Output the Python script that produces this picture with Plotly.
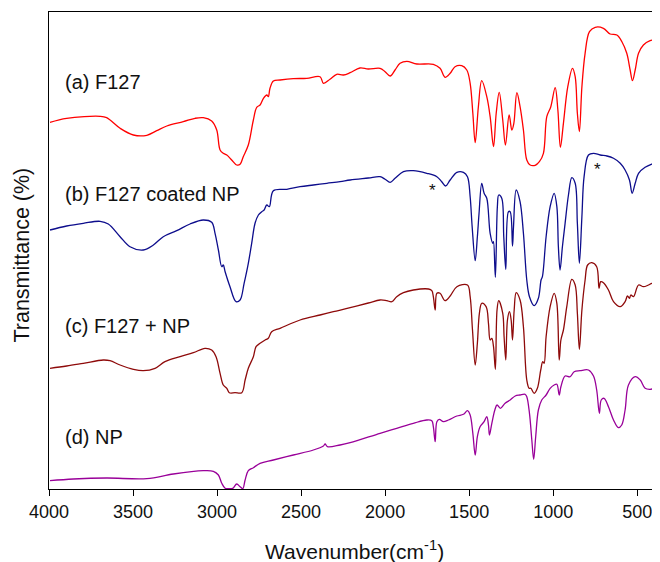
import plotly.graph_objects as go

# ---------------- data ----------------
# x: wavenumber (cm^-1); y: transmittance in arbitrary, vertically offset units
wn_a = [3994, 3895, 3696, 3657, 3577, 3498, 3418, 3359, 3299, 3201, 3131, 3082, 3032, 3002, 2982, 2963,
        2942, 2913, 2883, 2863, 2844, 2814, 2784, 2764, 2744, 2724, 2704, 2695, 2685, 2665, 2625, 2546,
        2466, 2387, 2367, 2328, 2288, 2248, 2208, 2150, 2100, 2030, 2000, 1970, 1941, 1911, 1871, 1811,
        1713, 1673, 1643, 1613, 1584, 1544, 1514, 1494, 1478, 1464, 1445, 1425, 1395, 1375, 1355, 1339,
        1321, 1300, 1284, 1262, 1246, 1234, 1216, 1197, 1177, 1157, 1137, 1107, 1082, 1058, 1038, 1014,
        988, 972, 957, 939, 913, 885, 869, 856, 844, 829, 810, 784, 750, 701, 661, 621, 591, 562, 542,
        528, 512, 492, 463, 423, 400]
t_a = [366.7, 370.7, 372.7, 371.3, 360.7, 354, 353.7, 358.3, 363, 367.3, 370.7, 371.3, 368, 359, 339, 335.7,
       334, 329, 324, 324.7, 332.3, 344, 369, 381.7, 384, 390.7, 394, 392.3, 400.7, 408, 409, 410.3,
       410.7, 412.3, 405.7, 409.7, 414.7, 414, 416.3, 421, 420, 420.7, 417.3, 413, 419, 425.7, 427.7, 425,
       424.7, 420.7, 411.7, 415.7, 422.3, 423.3, 419, 405.7, 375.7, 346.3, 382.3, 408.3, 392.3, 372.3, 342.3, 375.7,
       396.7, 369, 344, 374, 359, 365.7, 396.3, 382.3, 359, 329, 324, 323.7, 327.3, 335.7, 372.3, 382.3,
       401.3, 379, 341.7, 365.7, 402.3, 420.7, 412.3, 375.7, 357.3, 402.3, 435.7, 457.3, 461.7, 460.7, 455, 454, 447.3, 435.7, 419,
       408.3, 419, 435.7, 444, 448.3, 449]

wn_b = [3994, 3895, 3796, 3696, 3647, 3577, 3518, 3439, 3379, 3320, 3240, 3161, 3082, 3032, 3012, 2992,
        2972, 2963, 2952, 2923, 2887, 2863, 2839, 2814, 2794, 2774, 2754, 2734, 2720, 2704, 2689, 2665,
        2585, 2506, 2427, 2347, 2268, 2208, 2100, 2030, 2000, 1970, 1941, 1891, 1832, 1752, 1692, 1663,
        1640, 1613, 1573, 1534, 1510, 1494, 1482, 1464, 1451, 1441, 1425, 1411, 1395, 1375, 1359, 1355,
        1344, 1332, 1324, 1306, 1294, 1282, 1266, 1256, 1242, 1236, 1220, 1197, 1177, 1157, 1141, 1113,
        1088, 1072, 1064, 1042, 1018, 994, 978, 969, 959, 945, 929, 909, 889, 869, 856, 844, 829, 816,
        790, 760, 720, 680, 641, 601, 572, 546, 530, 512, 492, 453, 413, 400]
t_b = [259, 263, 265.7, 267.7, 265, 252.3, 242.3, 239, 244, 252.3, 258.3, 265, 269, 266.7, 255.7, 239,
       222.3, 224, 217.3, 202.3, 187.3, 189, 205.7, 225.7, 245.7, 265.7, 274, 277.3, 279, 284, 282.3, 298.3,
       299.7, 302.3, 304, 305.7, 307.3, 309, 311, 312.3, 309.7, 306.7, 310.7, 317.3, 318.3, 315.7, 312.3, 307.3,
       303, 309, 316.7, 316.7, 312.3, 292.3, 262.3, 228.3, 252.3, 275.7, 305.7, 295.7, 290.7, 255.7, 245.7, 247.3,
       211.7, 282.3, 294, 290.7, 252.3, 219.7, 277.3, 277.3, 243, 262.3, 299, 287.3, 255.7, 209, 192.3, 183.3,
       190.7, 209, 212.3, 252.3, 282.3, 295.7, 282.3, 242.3, 219, 242.3, 265.7, 294, 311.3, 305.7, 265.7, 225.7, 272.3, 312.3,
       334, 335.7, 334, 333, 330.7, 325.7, 319, 309, 295.7, 305.7, 315.7, 321.7, 325, 325.7]

wn_c = [3994, 3895, 3796, 3677, 3637, 3577, 3498, 3439, 3369, 3310, 3220, 3141, 3072, 3032, 3006, 2982,
        2963, 2942, 2927, 2893, 2853, 2833, 2814, 2784, 2768, 2744, 2714, 2695, 2675, 2625, 2506, 2387,
        2308, 2208, 2100, 2030, 1990, 1960, 1931, 1891, 1832, 1742, 1722, 1713, 1702, 1692, 1673, 1643,
        1613, 1573, 1510, 1494, 1480, 1464, 1451, 1439, 1425, 1399, 1385, 1375, 1365, 1355, 1344, 1334,
        1324, 1300, 1292, 1282, 1272, 1260, 1250, 1242, 1232, 1220, 1197, 1177, 1157, 1143, 1133, 1113,
        1094, 1074, 1062, 1054, 1042, 1018, 994, 978, 964, 954, 939, 919, 889, 869, 856, 844, 829, 810,
        795, 770, 741, 727, 717, 701, 671, 641, 601, 572, 558, 546, 538, 522, 492, 463, 433, 413, 400]
t_c = [120.7, 123, 125.7, 129, 128.3, 124, 119.7, 118.3, 120.7, 127.3, 132.3, 136.3, 140.7, 139, 132.3, 115.7,
       104, 100.7, 96.3, 96.3, 96.3, 109, 120.7, 132.3, 142.3, 145.7, 149, 150.7, 157.3, 160.7, 169, 174,
       177.3, 181.3, 186, 189, 188.3, 187.3, 192.3, 196.3, 199, 200, 198.3, 192.3, 179, 195.7, 195.7, 188.3,
       193, 202.3, 204, 192.3, 159, 124, 145.7, 175.7, 185.7, 182.3, 165.7, 149, 150.7, 142.3, 119.7, 179,
       188.3, 175.7, 152.3, 129, 169, 177.3, 169, 149, 179, 196.3, 189, 162.3, 109, 100.7, 100.7, 95.7,
       100.7, 119, 127.3, 125.7, 152.3, 182.3, 195.7, 185.7, 129, 149, 159, 182.3, 209.7, 204, 175.7, 139.7, 179, 209,
       224, 226.3, 222.3, 200.7, 207.3, 206.3, 199, 187.3, 182.3, 187.3, 193, 190.7, 194, 192.3, 204, 202.3, 204, 205.7, 205]

wn_d = [3994, 3855, 3657, 3418, 3260, 3082, 3022, 2992, 2972, 2952, 2933, 2907, 2883, 2863, 2847, 2833,
        2814, 2784, 2744, 2665, 2546, 2427, 2367, 2357, 2343, 2268, 2208, 2030, 1931, 1832, 1752, 1722,
        1713, 1702, 1692, 1677, 1653, 1623, 1573, 1534, 1510, 1494, 1478, 1464, 1451, 1435, 1411, 1395,
        1385, 1379, 1365, 1347, 1334, 1314, 1286, 1256, 1226, 1197, 1167, 1157, 1141, 1127, 1116, 1104,
        1088, 1068, 1042, 1018, 994, 978, 964, 954, 929, 899, 875, 840, 790, 760, 741, 725, 714, 697,
        671, 641, 612, 592, 572, 552, 512, 482, 453, 423, 400]
t_d = [8.3, 10, 11, 10.3, 15, 18.3, 17.7, 14, 5.7, 0.7, 0.3, 0.7, 5, 2.3, 0.3, 9,
       18.3, 21.3, 25.7, 29, 34, 39, 43, 45, 42.3, 44, 46.3, 55.7, 60.7, 65.7, 69, 68.3,
       62.3, 47.3, 67.3, 69.7, 67.3, 69, 73, 74.7, 78.3, 74, 55.7, 34, 52.3, 62.3, 67.3, 72.3,
       64, 54, 65.7, 79, 84, 80.7, 85.7, 89, 93, 94, 94.7, 92.3, 75.7, 49, 29.7, 52.3,
       79, 89, 94, 100.7, 104, 104.7, 94, 102.3, 113, 112.3, 117.3, 118.3, 119, 113, 99, 75.7, 89, 90.7,
       82.3, 69, 61.3, 64, 79, 104, 112.3, 109, 100.7, 99.7, 100.7]

series_names = ["(a) F127", "(b) F127 coated NP", "(c) F127 + NP", "(d) NP"]
series_colors = ["#FF0000", "#0D0D8C", "#8E0A0A", "#990099"]
label_y = [407, 295, 163.3, 52.3]
label_x = 3918

star_wn = [1719, 734]
star_t = [298.3, 320]

x_ticks = [4000, 3500, 3000, 2500, 2000, 1500, 1000, 500]
x_range = [4000, 400]
y_range = [0, 477]

FONT = "Liberation Sans, Arial, sans-serif"

# ---------------- figure ----------------
fig = go.Figure()
for wn, t, name, col in zip([wn_a, wn_b, wn_c, wn_d], [t_a, t_b, t_c, t_d], series_names, series_colors):
    fig.add_trace(go.Scatter(x=wn, y=t, mode="lines", name=name,
                             line=dict(color=col, width=1.3), line_shape="spline",
                             hoverinfo="skip"))

for name, ly in zip(series_names, label_y):
    fig.add_annotation(x=label_x, y=ly, text=name, showarrow=False, xanchor="left", yanchor="middle",
                       font=dict(family=FONT, size=20, color="#111111"))

for sx, sy in zip(star_wn, star_t):
    fig.add_annotation(x=sx, y=sy, text="*", showarrow=False, xanchor="center", yanchor="middle",
                       font=dict(family=FONT, size=17, color="#111111"))

# axis titles (plot area: 605 px wide, 477 px tall)
fig.add_annotation(xref="paper", yref="paper", x=-0.045, y=0.491, text="Transmittance (%)",
                   textangle=-90, showarrow=False, xanchor="center", yanchor="middle",
                   font=dict(family=FONT, size=21.5, color="#111111"))
fig.add_annotation(xref="paper", yref="paper", x=0.505, y=-0.128, text="Wavenumber(cm<sup>-1</sup>)",
                   showarrow=False, xanchor="center", yanchor="middle",
                   font=dict(family=FONT, size=21, color="#111111"))

# page body has an 8 px margin, so the figure is 8 px smaller and margins shifted
fig.update_layout(
    width=652, height=554,
    margin=dict(l=41, r=6, t=4, b=73, autoexpand=False),
    plot_bgcolor="white", paper_bgcolor="white",
    showlegend=False,
    font=dict(family=FONT, color="#111111"),
)
fig.update_xaxes(range=x_range, tickvals=x_ticks, ticks="outside", ticklen=6, tickwidth=1,
                 tickcolor="black", showline=True, linecolor="black", linewidth=1.2, mirror=True,
                 showgrid=False, zeroline=False, tickfont=dict(size=18, color="#111111"))
fig.update_yaxes(range=y_range, showticklabels=False, ticks="", showline=True, linecolor="black",
                 linewidth=1.2, mirror=True, showgrid=False, zeroline=False)

fig.write_html("out.html")
